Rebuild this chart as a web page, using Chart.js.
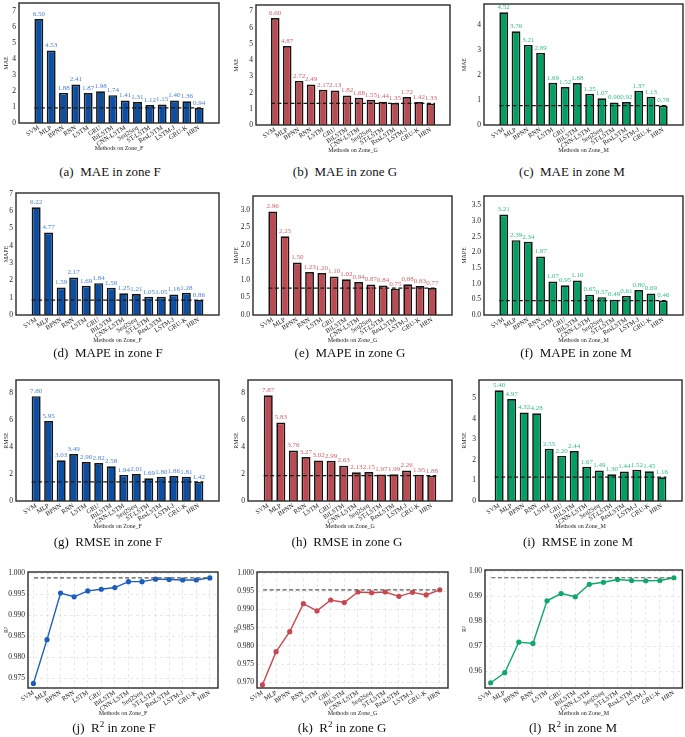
<!DOCTYPE html>
<html><head><meta charset="utf-8">
<script src="https://cdn.jsdelivr.net/npm/chart.js@4/dist/chart.umd.min.js"></script>
<style>
body{margin:0;background:#fff;width:685px;height:737px;position:relative;overflow:hidden;font-family:'Liberation Serif','Times New Roman',serif}
canvas{position:absolute}
.cap{position:absolute;font-size:13px;line-height:16px;text-align:center;width:200px;color:#111;white-space:nowrap}
.cap sup{font-size:9px;line-height:0}
</style></head><body>
<script>
const methods = ['SVM','MLP','BPNN','RNN','LSTM','GRU','BiLSTM','CNN-LSTM','Seq2Seq','ST-LSTM','ResLSTM','LSTM-J','GRU-K','HRN'];

const maeF  = [6.50,4.53,1.88,2.41,1.87,1.98,1.74,1.41,1.31,1.12,1.15,1.40,1.36,0.94];
const maeG  = [6.60,4.87,2.72,2.49,2.17,2.13,1.82,1.68,1.55,1.44,1.35,1.72,1.42,1.33];
const maeM  = [4.52,3.76,3.21,2.89,1.69,1.52,1.68,1.25,1.07,0.90,0.92,1.37,1.13,0.78];
const mapeF = [6.22,4.77,1.59,2.17,1.69,1.84,1.58,1.25,1.21,1.05,1.05,1.18,1.28,0.86];
const mapeG = [2.96,2.25,1.50,1.23,1.20,1.10,1.02,0.94,0.87,0.84,0.75,0.88,0.83,0.77];
const mapeM = [3.21,2.39,2.34,1.87,1.07,0.95,1.10,0.65,0.57,0.49,0.61,0.80,0.69,0.46];
const rmseF = [7.80,5.95,3.03,3.49,2.90,2.82,2.58,1.94,2.01,1.69,1.80,1.86,1.81,1.42];
const rmseG = [7.87,5.83,3.76,3.27,3.02,2.99,2.63,2.13,2.15,1.97,1.99,2.26,1.95,1.88];
const rmseM = [5.40,4.97,4.32,4.28,2.55,2.20,2.44,1.67,1.49,1.30,1.44,1.52,1.45,1.16];
const r2F = [0.9738,0.9842,0.9953,0.9944,0.9958,0.9962,0.9966,0.9980,0.9980,0.9986,0.9985,0.9984,0.9984,0.9989];
const r2G = [0.9693,0.9784,0.9839,0.9916,0.9896,0.9926,0.9919,0.9948,0.9946,0.9948,0.9936,0.9947,0.9940,0.9954];
const r2M = [0.9554,0.9594,0.9716,0.9711,0.9881,0.9910,0.9897,0.9947,0.9955,0.9966,0.9962,0.9961,0.9962,0.9973];

const FONT = "'Liberation Serif','Times New Roman',serif";
const colors = {
  F:{bar:'#0b4ea4', label:'#4a82d4', line:'#1a5ec0'},
  G:{bar:'#bc4a52', label:'#d4646c', line:'#c9484f'},
  M:{bar:'#00a063', label:'#35bd88', line:'#0fa86b'}
};

const panels = [
  {l:'a', m:'MAE',  z:'F', v:maeF,  kind:'bar', rect:[19,3,219,123],   col:0, max:7.5,  step:1,    dec:0, cap:[110,172]},
  {l:'b', m:'MAE',  z:'G', v:maeG,  kind:'bar', rect:[256,5,450,125],  col:1, max:7.4,  step:1,    dec:0, cap:[345,172]},
  {l:'c', m:'MAE',  z:'M', v:maeM,  kind:'bar', rect:[484,4,683,125],  col:2, max:4.85, step:1,    dec:0, cap:[572,172]},
  {l:'d', m:'MAPE', z:'F', v:mapeF, kind:'bar', rect:[16,193,219,315], col:0, max:7.05, step:1,    dec:0, cap:[108,353]},
  {l:'e', m:'MAPE', z:'G', v:mapeG, kind:'bar', rect:[253,196,452,315],col:1, max:3.4,  step:0.5,  dec:1, cap:[350,353]},
  {l:'f', m:'MAPE', z:'M', v:mapeM, kind:'bar', rect:[484,196,683,315],col:2, max:3.8,  step:0.5,  dec:1, cap:[576,353]},
  {l:'g', m:'RMSE', z:'F', v:rmseF, kind:'bar', rect:[16,380,219,501], col:0, max:9.0,  step:2,    dec:0, cap:[108,542]},
  {l:'h', m:'RMSE', z:'G', v:rmseG, kind:'bar', rect:[248,380,452,501],col:1, max:9.0,  step:2,    dec:0, cap:[347,542]},
  {l:'i', m:'RMSE', z:'M', v:rmseM, kind:'bar', rect:[479,380,682,501],col:2, max:5.9,  step:1,    dec:0, cap:[578,542]},
  {l:'j', m:'R2',   z:'F', v:r2F,   kind:'line',rect:[28,572,218,688], col:0, min:0.9727, max:1.0003, step:0.005, dec:3, cap:[114,728]},
  {l:'k', m:'R2',   z:'G', v:r2G,   kind:'line',rect:[257,572,448,688],col:1, min:0.9684, max:1.0003, step:0.005, dec:3, cap:[342,728]},
  {l:'l', m:'R2',   z:'M', v:r2M,   kind:'line',rect:[485,570,683,688],col:2, min:0.9533, max:1.0004, step:0.01,  dec:2, cap:[573,728]}
];

const deco = {
  id:'deco',
  afterDatasetsDraw(chart, args, o){
    const {ctx, chartArea:a, scales} = chart;
    ctx.save();
    const meta = chart.getDatasetMeta(0);
    const vals = chart.data.datasets[0].data;
    if (o.labels){
      ctx.fillStyle = o.labelColor;
      ctx.font = '7px ' + FONT;
      ctx.textAlign = 'center';
      ctx.textBaseline = 'bottom';
      meta.data.forEach((el,i)=>{ ctx.fillText(vals[i].y.toFixed(2), el.x, el.y - 1.5); });
    }
    const y = scales.y.getPixelForValue(o.ref);
    const x0 = scales.x.getPixelForValue(o.x0), x1 = scales.x.getPixelForValue(o.x1);
    ctx.setLineDash([4,2.5]);
    ctx.strokeStyle = o.refColor;
    ctx.lineWidth = 1.2;
    ctx.beginPath(); ctx.moveTo(x0,y); ctx.lineTo(x1,y); ctx.stroke();
    ctx.setLineDash([]);
    ctx.strokeStyle = '#2a2a2a';
    ctx.lineWidth = 1.4;
    ctx.strokeRect(a.left, a.top, a.width, a.height);
    ctx.restore();
  }
};

panels.forEach(p=>{
  const [L,T,R,B] = p.rect;
  const colLeft = [0,230,458][p.col];
  const right = Math.min(R+3, 685);
  const cw = right - colLeft;
  const padTop = 8, xH = 32;
  const ch = padTop + (B-T) + xH;
  const cv = document.createElement('canvas');
  cv.width = cw; cv.height = ch;
  cv.style.left = colLeft+'px'; cv.style.top = (T-padTop)+'px';
  cv.style.width = cw+'px'; cv.style.height = ch+'px';
  document.body.appendChild(cv);
  const isBar = p.kind === 'bar';
  const c = colors[p.z];
  const pts = p.v.map((y,i)=>({x:i, y:y}));
  const ds = isBar ? {
      data: pts, backgroundColor: c.bar, borderColor:'#151515', borderWidth:1.7,
      barPercentage:0.72, categoryPercentage:1.0
    } : {
      data: pts, borderColor: c.line, backgroundColor: c.line, borderWidth:1.4,
      pointRadius:2.6, pointHoverRadius:2.6, pointBorderWidth:0, tension:0
    };
  new Chart(cv, {
    type: isBar ? 'bar' : 'line',
    data: { datasets:[ds] },
    plugins:[deco],
    options:{
      responsive:false, animation:false, devicePixelRatio:1,
      layout:{padding:{left:0, top:padTop, right: right - R, bottom:0}},
      plugins:{
        legend:{display:false}, tooltip:{enabled:false},
        deco:{ labels:isBar, labelColor:c.label, ref:p.v[p.v.length-1],
               x0: isBar ? -0.36 : 0.05, x1: isBar ? 13.36 : 13,
               refColor: isBar ? '#1a1a1a' : '#555' }
      },
      scales:{
        x:{
          type:'linear', min: isBar ? -1.03 : -0.4, max: isBar ? 14.03 : 13.6,
          afterBuildTicks: s=>{ s.ticks = methods.map((_,i)=>({value:i})); },
          afterFit: s=>{ s.height = xH; },
          ticks:{ callback: v=>methods[v], minRotation:32, maxRotation:32, autoSkip:false,
                  font:{family:FONT, size:6.5}, color:'#222', padding:1 },
          grid:{ display:!isBar, color:'#e2e2e2', drawTicks:false, lineWidth:0.8 },
          border:{ display:false, dash:[3,3] },
          title:{ display:true, text:'Methods on Zone_'+p.z, font:{family:FONT, size:6}, color:'#222', padding:{top:0,bottom:3} }
        },
        y:{
          type:'linear', min: isBar ? 0 : p.min, max:p.max,
          afterFit: s=>{ s.width = L - colLeft; },
          ticks:{ stepSize:p.step, includeBounds:false, callback: v=>Number(v).toFixed(p.dec),
                  font:{family:FONT, size:7.5}, color:'#222', padding:3 },
          grid:{ display:!isBar, color:'#e2e2e2', drawTicks:false, lineWidth:0.8 },
          border:{ display:false, dash:[3,3] },
          title:{ display:true, text: p.m==='R2' ? 'R²' : p.m, font:{family:FONT, size:6}, color:'#222', padding:{top:3,bottom:0} }
        }
      }
    }
  });
  const cap = document.createElement('div');
  cap.className = 'cap';
  cap.style.left = (p.cap[0]-100)+'px';
  cap.style.top = (p.cap[1]-8)+'px';
  cap.innerHTML = '(' + p.l + ')\u2002' + (p.m==='R2' ? 'R<sup>2</sup>' : p.m) + ' in zone ' + p.z;
  document.body.appendChild(cap);
});
</script>
</body></html>
